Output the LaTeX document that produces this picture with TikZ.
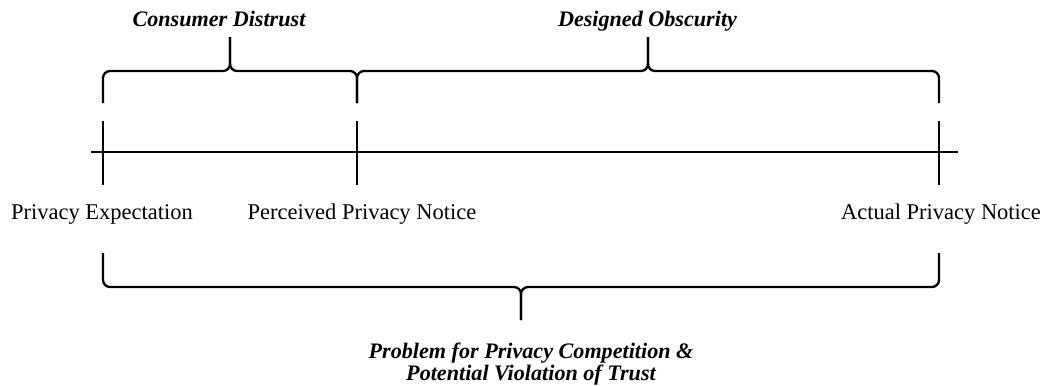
\documentclass[tikz,border=0pt]{standalone}
\usepackage{fontspec}
\setmainfont{Liberation Serif}
\usetikzlibrary{calc}

\begin{document}
\begin{tikzpicture}[x=1.000cm,y=1.000cm,
 axis/.style={line width=1pt},
 tick/.style={line width=0.8pt},
 brace/.style={line width=1.3pt,rounded corners=4pt},
 lab/.style={inner sep=0pt,anchor=base,font=\fontsize{12.8}{14}\selectfont},
 head/.style={inner sep=0pt,anchor=base,align=center,font=\fontsize{12.6}{12.5}\selectfont\bfseries\itshape}]
\useasboundingbox (0,0) rectangle (20.860,-7.700);
% the line and its three points
\coordinate (l0) at (1.820,-3.040);
\coordinate (l1) at (19.160,-3.040);
\coordinate (pe) at (2.060,-3.040);
\coordinate (pp) at (7.140,-3.040);
\coordinate (ap) at (18.780,-3.040);
\draw[axis] (l0) -- (l1);
\foreach \p in {pe,pp,ap}
  \draw[tick] ($(\p)+(0,0.620)$) -- ($(\p)+(0,-0.660)$);
\node[lab] (lpe) at (2.040,-4.380) {Privacy Expectation};
\node[lab] (lpp) at (7.240,-4.380) {Perceived Privacy Notice};
\node[lab] (lap) at (18.820,-4.380) {Actual Privacy Notice};
% braces above
\foreach \a/\b/\m in {2.060/7.140/4.600, 7.140/18.780/12.960} {
  \draw[brace] (\a,-2.060) -- (\a,-1.420) -- (\m,-1.420) -- (\m,-0.740);
  \draw[brace] (\b,-2.060) -- (\b,-1.420) -- (\m,-1.420) -- (\m,-0.740);
}
\node[head] (cd) at (4.380,-0.520) {Consumer Distrust};
\node[head] (do) at (12.950,-0.520) {Designed Obscurity};
% brace below
\draw[brace] (2.060,-5.060) -- (2.060,-5.740) -- (10.420,-5.740) -- (10.420,-6.400);
\draw[brace] (18.780,-5.060) -- (18.780,-5.740) -- (10.420,-5.740) -- (10.420,-6.400);
\node[head] (pc) at (10.620,-7.600) {Problem for Privacy Competition \&\\Potential Violation of Trust};
\end{tikzpicture}
\end{document}
